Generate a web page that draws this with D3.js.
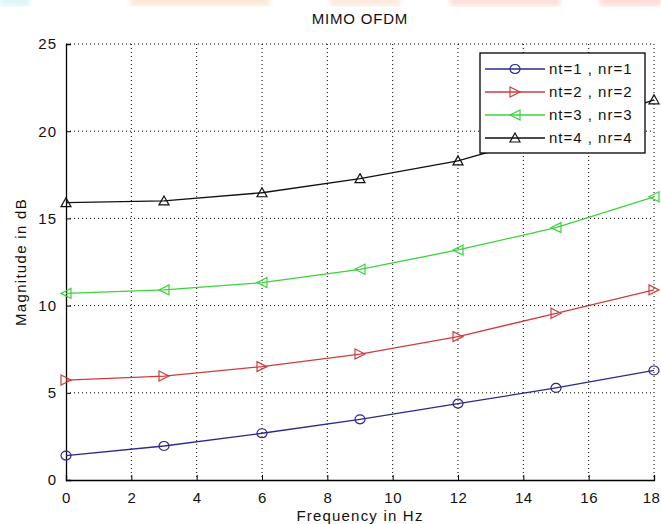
<!DOCTYPE html>
<html><head><meta charset="utf-8">
<script src="https://cdn.jsdelivr.net/npm/d3@7"></script>
<style>
html,body{margin:0;padding:0;background:#fff;}
svg{display:block;font-family:"Liberation Sans",Arial,sans-serif;}
</style></head>
<body><svg id="chart" width="661" height="524"></svg>
<script>
const freqs = [0, 3, 6, 9, 12, 15, 18];
const series1 = [1.4, 1.95, 2.68, 3.48, 4.38, 5.28, 6.28];
const series2 = [5.73, 5.96, 6.5, 7.22, 8.22, 9.56, 10.9];
const series3 = [10.7, 10.9, 11.32, 12.08, 13.19, 14.47, 16.24];
const series4 = [15.9, 16.0, 16.47, 17.28, 18.3, 19.9, 21.8];
const seriesNames = ["nt=1 , nr=1", "nt=2 , nr=2", "nt=3 , nr=3", "nt=4 , nr=4"];
const xTicks = [0, 2, 4, 6, 8, 10, 12, 14, 16, 18];
const yTicks = [0, 5, 10, 15, 20, 25];
const titleText = "MIMO OFDM";
const xLabel = "Frequency in Hz";
const yLabel = "Magnitude in dB";

const colors = ["#2a2a8c", "#d03c3c", "#3cd23c", "#111111"];
const markers = ["circle", "triR", "triL", "triU"];
const allSeries = [series1, series2, series3, series4];

const svg = d3.select("#chart");
const L = 66, R = 654, T = 44, B = 480;
const x = d3.scaleLinear().domain([0, 18]).range([L, R]);
const y = d3.scaleLinear().domain([0, 25]).range([B, T]);

const defs = svg.append("defs");
defs.append("filter").attr("id", "blur").append("feGaussianBlur").attr("stdDeviation", 2);
const bands = [[0,30,"#dff5fa"],[130,270,"#fce8d8"],[330,400,"#fdeadf"],[450,560,"#fde0da"],[600,661,"#fddcd6"]];
svg.selectAll("rect.band").data(bands).enter().append("rect")
  .attr("x", d => d[0]).attr("y", -4).attr("width", d => d[1]-d[0]).attr("height", 10)
  .attr("fill", d => d[2]).attr("filter", "url(#blur)");

const g = svg.append("g");
g.selectAll("line.gx").data(xTicks.slice(1, -1)).enter().append("line")
  .attr("x1", d => x(d)).attr("x2", d => x(d)).attr("y1", T).attr("y2", B)
  .attr("stroke", "#000").attr("stroke-width", 1).attr("stroke-dasharray", "1,3");
g.selectAll("line.gy").data(yTicks.slice(1, -1)).enter().append("line")
  .attr("x1", L).attr("x2", R).attr("y1", d => y(d)).attr("y2", d => y(d))
  .attr("stroke", "#000").attr("stroke-width", 1).attr("stroke-dasharray", "1,3");
g.append("line").attr("x1", L).attr("x2", R).attr("y1", T).attr("y2", T)
  .attr("stroke", "#000").attr("stroke-dasharray", "1,3");
g.append("line").attr("x1", R).attr("x2", R).attr("y1", T).attr("y2", B)
  .attr("stroke", "#000").attr("stroke-dasharray", "1,3");

const xAxis = d3.axisBottom(x).tickValues(xTicks).tickSize(-5).tickPadding(10).tickFormat(d3.format("d"));
const yAxis = d3.axisLeft(y).tickValues(yTicks).tickSize(-5).tickPadding(9).tickFormat(d3.format("d"));
const gx = svg.append("g").attr("transform", `translate(0,${B})`).call(xAxis);
const gy = svg.append("g").attr("transform", `translate(${L},0)`).call(yAxis);
[gx, gy].forEach(a => {
  a.select(".domain").attr("stroke", "#000").attr("stroke-width", 1.3);
  a.selectAll(".tick line").attr("stroke", "#000");
  a.selectAll("text").attr("font-size", 15).attr("fill", "#111").attr("letter-spacing", "1px")
   .attr("font-family", "'Liberation Sans',Arial,sans-serif");
});
gx.selectAll(".tick text").attr("dy", "0.85em").attr("letter-spacing", "0.5px");
gx.selectAll(".tick").filter(d => d === 18).select("text").attr("dx", "-3px");

const line = d3.line().x((d, i) => x(freqs[i])).y(d => y(d));
function markerPath(type, cx, cy) {
  const s = 5;
  if (type === "triR") return `M${cx-s},${cy-s}L${cx+s},${cy}L${cx-s},${cy+s}Z`;
  if (type === "triL") return `M${cx+s},${cy-s}L${cx-s},${cy}L${cx+s},${cy+s}Z`;
  if (type === "triU") return `M${cx},${cy-s}L${cx+s},${cy+s-1}L${cx-s},${cy+s-1}Z`;
  return null;
}
function drawMarker(sel, type, cx, cy, color) {
  if (type === "circle") {
    sel.append("ellipse").attr("cx", cx).attr("cy", cy).attr("rx", 5).attr("ry", 4.5)
      .attr("fill", "none").attr("stroke", color).attr("stroke-width", 1.2);
  } else {
    sel.append("path").attr("d", markerPath(type, cx, cy))
      .attr("fill", "none").attr("stroke", color).attr("stroke-width", 1.2);
  }
}
allSeries.forEach((s, k) => {
  svg.append("path").datum(s).attr("d", line).attr("fill", "none")
    .attr("stroke", colors[k]).attr("stroke-width", 1.3);
});

const lg = svg.append("g");
const lx = 480, ly = 53, lw = 165, lh = 100;
lg.append("rect").attr("x", lx).attr("y", ly).attr("width", lw).attr("height", lh)
  .attr("fill", "#fff").attr("stroke", "#000").attr("stroke-width", 1.3);
const rowY = [69, 92, 115, 138];

allSeries.forEach((s, k) => {
  const mg = svg.append("g");
  s.forEach((v, i) => {
    const cx = x(freqs[i]), cy = y(v);
    const inLegend = cx > lx && cx < lx + lw && cy > ly && cy < ly + lh;
    if (!inLegend) drawMarker(mg, markers[k], cx, cy, colors[k]);
  });
});
lg.raise();
seriesNames.forEach((name, k) => {
  lg.append("line").attr("x1", 485).attr("x2", 545).attr("y1", rowY[k]).attr("y2", rowY[k])
    .attr("stroke", colors[k]).attr("stroke-width", 1.3);
  drawMarker(lg, markers[k], 515, rowY[k], colors[k]);
  lg.append("text").attr("x", 549).attr("y", rowY[k]).attr("dy", "0.35em")
    .attr("font-size", 15).attr("letter-spacing", "1px").attr("fill", "#111").text(name);
});

svg.append("text").attr("x", 360).attr("y", 24).attr("text-anchor", "middle")
  .attr("font-size", 15).attr("letter-spacing", "0.8px").attr("fill", "#111").text(titleText);
svg.append("text").attr("x", 360).attr("y", 521).attr("text-anchor", "middle")
  .attr("font-size", 15).attr("letter-spacing", "1.2px").attr("fill", "#111").text(xLabel);
svg.append("text").attr("transform", "translate(26,262) rotate(-90)").attr("text-anchor", "middle")
  .attr("font-size", 15).attr("letter-spacing", "1.3px").attr("fill", "#111").text(yLabel);
</script></body></html>
